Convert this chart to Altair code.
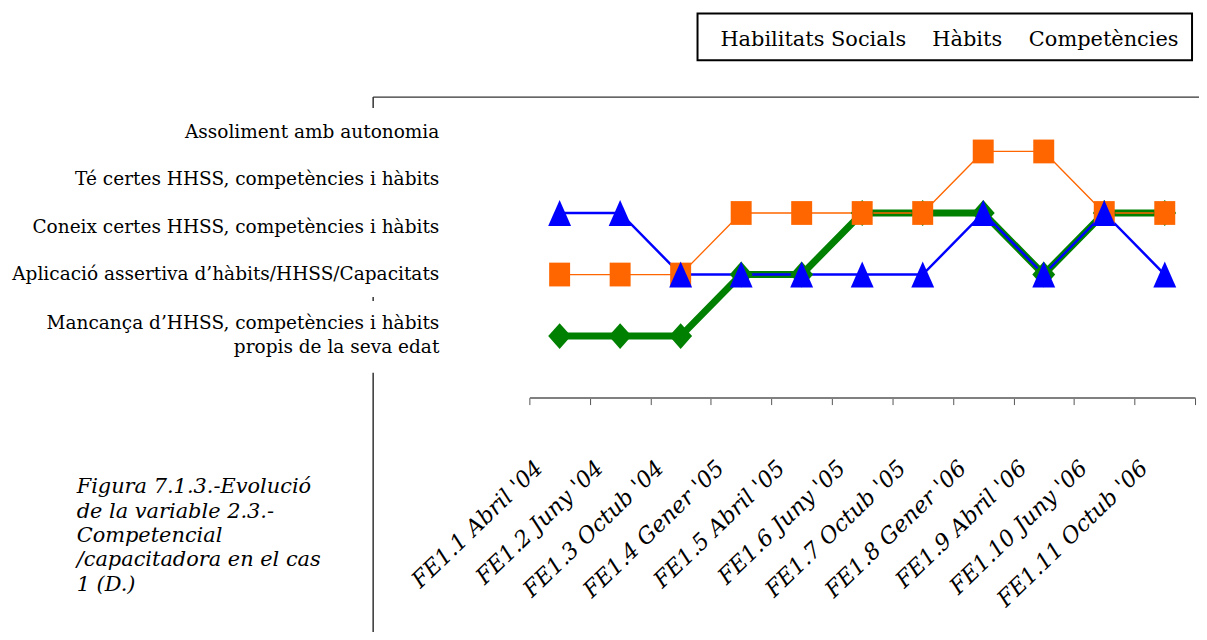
import json
import altair as alt
import pandas as pd

# ---- data ----
x_labels = ["FE1.1 Abril '04", "FE1.2 Juny '04", "FE1.3 Octub '04", "FE1.4 Gener '05",
            "FE1.5 Abril '05", "FE1.6 Juny '05", "FE1.7 Octub '05", "FE1.8 Gener '06",
            "FE1.9 Abril '06", "FE1.10 Juny '06", "FE1.11 Octub '06"]
series_names = ["Habilitats Socials", "Hàbits", "Competències"]
habilitats_socials = [1, 1, 1, 2, 2, 3, 3, 3, 2, 3, 3]
habits = [2, 2, 2, 3, 3, 3, 3, 4, 4, 3, 3]
competencies = [3, 3, 2, 2, 2, 2, 2, 3, 2, 3, 2]
level_labels = [
    ["Mancança d\u2019HHSS, competències i hàbits", "propis de la seva edat"],
    "Aplicació assertiva d\u2019hàbits/HHSS/Capacitats",
    "Coneix certes HHSS, competències i hàbits",
    "Té certes HHSS, competències i hàbits",
    "Assoliment amb autonomia",
]
caption_lines = ["Figura 7.1.3.-Evolució", "de la variable 2.3.-", "Competencial",
                 "/capacitadora en el cas", "1 (D.)"]

rows = []
for name, vals in zip(series_names, [habilitats_socials, habits, competencies]):
    for lab, v in zip(x_labels, vals):
        rows.append({"periode": lab, "serie": name, "valor": v})
df = pd.DataFrame(rows)

# ---- styling ----
FONT = "DejaVu Serif"
W, H = 669, 302
colors = ["#008000", "#FF6600", "#0000FF"]
widths = [7, 1.3, 2.5]
shapes = ["M-0.885,0L0,-1L0.885,0L0,1Z",
          "M-0.81,-0.92H0.81V0.92H-0.81Z",
          "M0,-1L0.885,1L-0.885,1Z"]

# y label positions (as laid out in the reference)
label_pos = [1.225, 2.02, 2.78, 3.557, 4.32]
expr = "''"
for pos, lab in reversed(list(zip(label_pos, level_labels))):
    expr = f"(abs(datum.value - {pos}) < 0.01 ? {json.dumps(lab, ensure_ascii=False)} : {expr})"

x_enc = alt.X("periode:N", sort=x_labels,
              scale=alt.Scale(type="band", paddingInner=0, paddingOuter=0),
              axis=alt.Axis(title=None, tickBand="extent", domainColor="#808080", domainWidth=2,
                            tickColor="#555555", tickSize=7, tickWidth=1,
                            labelAngle=316, labelAlign="right", labelBaseline="middle",
                            labelPadding=60, labelOffset=-21, labelFont=FONT,
                            labelFontStyle="italic", labelFontSize=22.5, labelColor="black",
                            labelOverlap=False, labelBound=False, labelFlush=False,
                            labelLimit=0, grid=False))
y_enc = alt.Y("valor:Q", scale=alt.Scale(domain=[0, 4.883], nice=False, zero=True),
              axis=alt.Axis(title=None, values=label_pos, labelExpr=expr, ticks=False,
                            domain=False, grid=False, labelPadding=91, labelFont=FONT,
                            labelFontSize=18.6, labelColor="black", labelLineHeight=24.5,
                            labelBaseline="middle", labelOverlap=False, labelBound=False,
                            labelFlush=False, labelLimit=0))

color_enc = alt.Color("serie:N", scale=alt.Scale(domain=series_names, range=colors),
                      legend=alt.Legend(orient="none", legendX=171, legendY=-68,
                                        direction="horizontal", title=None, symbolSize=0,
                                        symbolOpacity=0, symbolStrokeWidth=0, labelOffset=0,
                                        columnPadding=5, padding=0, labelFont=FONT,
                                        labelFontSize=21, labelColor="black", labelLimit=0))

base = alt.Chart(df)
lines = base.mark_line().encode(
    x=x_enc, y=y_enc, color=color_enc,
    strokeWidth=alt.StrokeWidth("serie:N",
                                scale=alt.Scale(type="ordinal", domain=series_names, range=widths),
                                legend=None),
    order=alt.Order("periode_idx:Q"),
).transform_calculate(periode_idx=f"indexof({json.dumps(x_labels)}, datum.periode)")
points = base.mark_point(filled=True, opacity=1, strokeWidth=0, size=676).encode(
    x=x_enc, y=y_enc,
    color=alt.Color("serie:N", scale=alt.Scale(domain=series_names, range=colors), legend=None),
    shape=alt.Shape("serie:N", scale=alt.Scale(domain=series_names, range=shapes), legend=None),
)

one = alt.Data(values=[{"k": 0}])
frame_top = alt.Chart(one).mark_rule(color="#333333", strokeWidth=1.5).encode(
    x=alt.value(-157), x2=alt.value(675), y=alt.value(0))
vseg1 = alt.Chart(one).mark_rule(color="#333333", strokeWidth=1.5).encode(
    x=alt.value(-157), y=alt.value(0), y2=alt.value(11))
vseg2 = alt.Chart(one).mark_rule(color="#333333", strokeWidth=1.5).encode(
    x=alt.value(-157), y=alt.value(201), y2=alt.value(205))
vseg3 = alt.Chart(one).mark_rule(color="#333333", strokeWidth=1.5).encode(
    x=alt.value(-157), y=alt.value(277), y2=alt.value(560))
legend_box = alt.Chart(one).mark_rect(filled=False, stroke="black", strokeWidth=2).encode(
    x=alt.value(169), x2=alt.value(666), y=alt.value(-84), y2=alt.value(-37))
caption = alt.Chart(one).mark_text(align="left", baseline="alphabetic", font=FONT,
                                   fontStyle="italic", fontSize=21, lineHeight=24.5,
                                   color="black").encode(
    x=alt.value(-455), y=alt.value(398), text=alt.value(caption_lines))

chart = alt.layer(frame_top, vseg1, vseg2, vseg3, legend_box, caption, lines, points).properties(
    width=W, height=H,
    autosize=alt.AutoSizeParams(type="none"),
    padding={"left": 524, "top": 88, "right": 4, "bottom": 234},
).configure(background="white", font=FONT).configure_view(stroke=None)

chart.save("out.html", embed_options={"renderer": "svg", "actions": False})
